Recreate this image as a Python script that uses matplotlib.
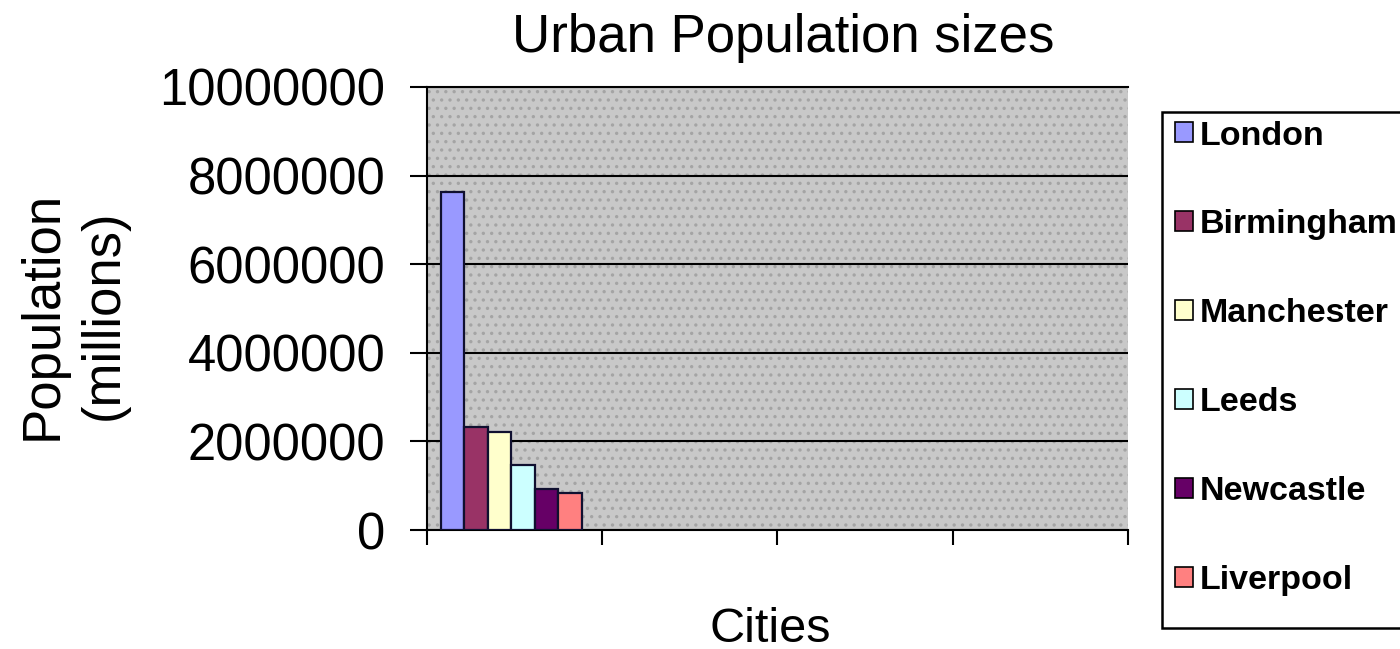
import matplotlib.pyplot as plt
from matplotlib.patches import Rectangle, Patch

cities = ["London", "Birmingham", "Manchester", "Leeds", "Newcastle", "Liverpool"]
population = [7620000, 2320000, 2220000, 1470000, 930000, 840000]
colors = ["#9999FF", "#993366", "#FFFFCC", "#CCFFFF", "#660066", "#FF8080"]
y_ticks = [0, 2000000, 4000000, 6000000, 8000000, 10000000]
n_slots = 4

plt.rcParams["font.family"] = ["Liberation Sans", "DejaVu Sans"]
plt.rcParams["hatch.linewidth"] = 1.2

fig = plt.figure(figsize=(14, 6.49), dpi=100)
ax = fig.add_axes([427 / 1400, 1 - 530 / 649, (1128 - 427) / 1400, (530 - 87) / 649])

# dotted grey plot area
ax.set_facecolor("#c8c8c8")
ax.add_patch(Rectangle((0, 0), 1, 1, transform=ax.transAxes, facecolor="#c8c8c8",
                       hatch="..", edgecolor="#a4a4a4", lw=0, zorder=0))

w = 0.134
center = 0.48
for i, (c, v, col) in enumerate(zip(cities, population, colors)):
    ax.bar(center + (i - 2.5) * w, v, width=w, color=col, edgecolor="#101030",
           linewidth=1.6, zorder=3)

ax.set_ylim(0, 10000000)
ax.set_xlim(0, n_slots)
ax.set_yticks(y_ticks)
ax.set_yticklabels([str(t) for t in y_ticks], fontsize=36.5)
ax.set_xticks(range(n_slots + 1))
ax.set_xticklabels([])
ax.tick_params(axis="y", direction="out", length=12, width=1.5, pad=18)
ax.tick_params(axis="x", direction="out", length=11, width=1.5)
ax.grid(axis="y", color="black", linewidth=1.5, zorder=1)
ax.set_axisbelow(True)
for s in ["left", "bottom", "top"]:
    ax.spines[s].set_linewidth(1.5)
ax.spines["right"].set_visible(False)

fig.text(783 / 1400, 1 - 38 / 649, "Urban Population sizes", fontsize=38,
         ha="center", va="center")
fig.text(770 / 1400, 1 - 629 / 649, "Cities", fontsize=35, ha="center", va="center")
fig.text(73 / 1400, 1 - 315 / 649, "Population\n(millions)", fontsize=38,
         rotation=90, ha="center", va="center", multialignment="center",
         linespacing=1.3)

# legend box (runs off the right edge like the original)
fig.add_artist(Rectangle((1162 / 1400, 1 - 628 / 649), 260 / 1400, 516 / 649,
                         transform=fig.transFigure, facecolor="white",
                         edgecolor="black", linewidth=1.8, zorder=1))
handles = [Patch(facecolor=col, edgecolor="black", linewidth=1.2) for col in colors]
leg = fig.legend(handles, cities, loc="upper left",
                 bbox_to_anchor=(1166 / 1400, 1 - 112 / 649),
                 prop={"weight": "bold", "size": 24.5}, frameon=False,
                 labelspacing=1.70, handlelength=0.53, handleheight=0.53,
                 handletextpad=0.22, borderpad=0.25, borderaxespad=0)
leg.set_zorder(2)

fig.savefig("out.png", dpi=100)
